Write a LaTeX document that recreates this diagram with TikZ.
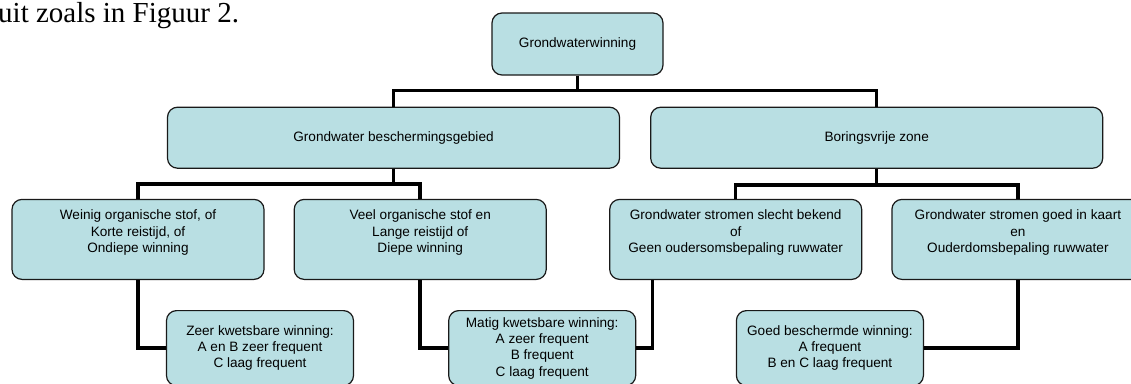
\documentclass[tikz,border=0pt]{standalone}
\usepackage{fontspec}
\setmainfont{Liberation Sans}
\newfontfamily\introfont{Liberation Serif}
\usepackage{xcolor}
\usepackage{tikz}
\usetikzlibrary{positioning}

\definecolor{boxfill}{RGB}{185,223,227}
\definecolor{boxline}{RGB}{25,25,25}

\begin{document}
\begin{tikzpicture}[
    x=1pt, y=1pt,
    node distance=30pt,
    block/.style={
        rectangle, draw=boxline, line width=1.2pt, rounded corners=10pt,
        fill=boxfill, align=center, inner sep=0pt,
        font=\fontsize{13.6}{16.3}\selectfont
    },
    wide/.style={block, minimum width=452pt, minimum height=61pt},
    mid/.style={block, minimum width=252pt, minimum height=80pt},
    small/.style={block, minimum width=187pt, minimum height=75pt},
    link/.style={line width=3.5pt}
]
\useasboundingbox (0,0) rectangle (1131,-383);

% Running text above the chart
\node[anchor=base west, inner sep=0pt, font=\introfont\fontsize{29}{34}\selectfont]
    (intro) at (-2,-22) {uit zoals in Figuur 2.};

% Row 1: top
\node[block, minimum width=171pt, minimum height=62pt] (gw) at (577.5,-44) {Grondwaterwinning};

% Row 2: zones
\node[wide, below=31pt of gw, xshift=-184pt] (bsg) {Grondwater beschermingsgebied};
\node[wide, right=30pt of bsg] (bvz) {Boringsvrije zone};

% Row 3: conditions
\node[mid, below=30pt of bsg, xshift=-255.5pt] (weinig)
    {Weinig organische stof, of\\Korte reistijd, of\\Ondiepe winning\\\mbox{}};
\node[mid, right=29pt of weinig] (veel)
    {Veel organische stof en\\Lange reistijd of\\Diepe winning\\\mbox{}};
\node[mid, below=30pt of bvz, xshift=-141pt] (slecht)
    {Grondwater stromen slecht bekend\\of\\Geen oudersomsbepaling ruwwater\\\mbox{}};
\node[mid, right=29pt of slecht] (goed)
    {Grondwater stromen goed in kaart\\en\\Ouderdomsbepaling ruwwater\\\mbox{}};

% Row 4: classes
\node[small, below=30pt of weinig, xshift=122pt] (zeer)
    {Zeer kwetsbare winning:\\A en B zeer frequent\\C laag frequent};
\node[small, below=30pt of veel, xshift=122pt] (matig)
    {Matig kwetsbare winning:\\A zeer frequent\\B frequent\\C laag frequent};
\node[small, below=30pt of goed, xshift=-188pt] (beschermd)
    {Goed beschermde winning:\\A frequent\\B en C laag frequent};

% Connectors
\draw[link] (gw.south) -- ++(0,-15) -| (bsg.north);
\draw[link] (gw.south) -- ++(0,-15) -| (bvz.north);
\draw[link] (bsg.south) -- ++(0,-15) -| (weinig.north);
\draw[link] (bsg.south) -- ++(0,-15) -| (veel.north);
\draw[link] (bvz.south) -- ++(0,-16) -| (slecht.north);
\draw[link] (bvz.south) -- ++(0,-16) -| (goed.north);
\draw[link] (weinig.south) |- (zeer.west);
\draw[link] (veel.south) |- (matig.west);
\draw[link] ([xshift=-83pt]slecht.south) |- (matig.east);
\draw[link] (goed.south) |- (beschermd.east);

\end{tikzpicture}
\end{document}
